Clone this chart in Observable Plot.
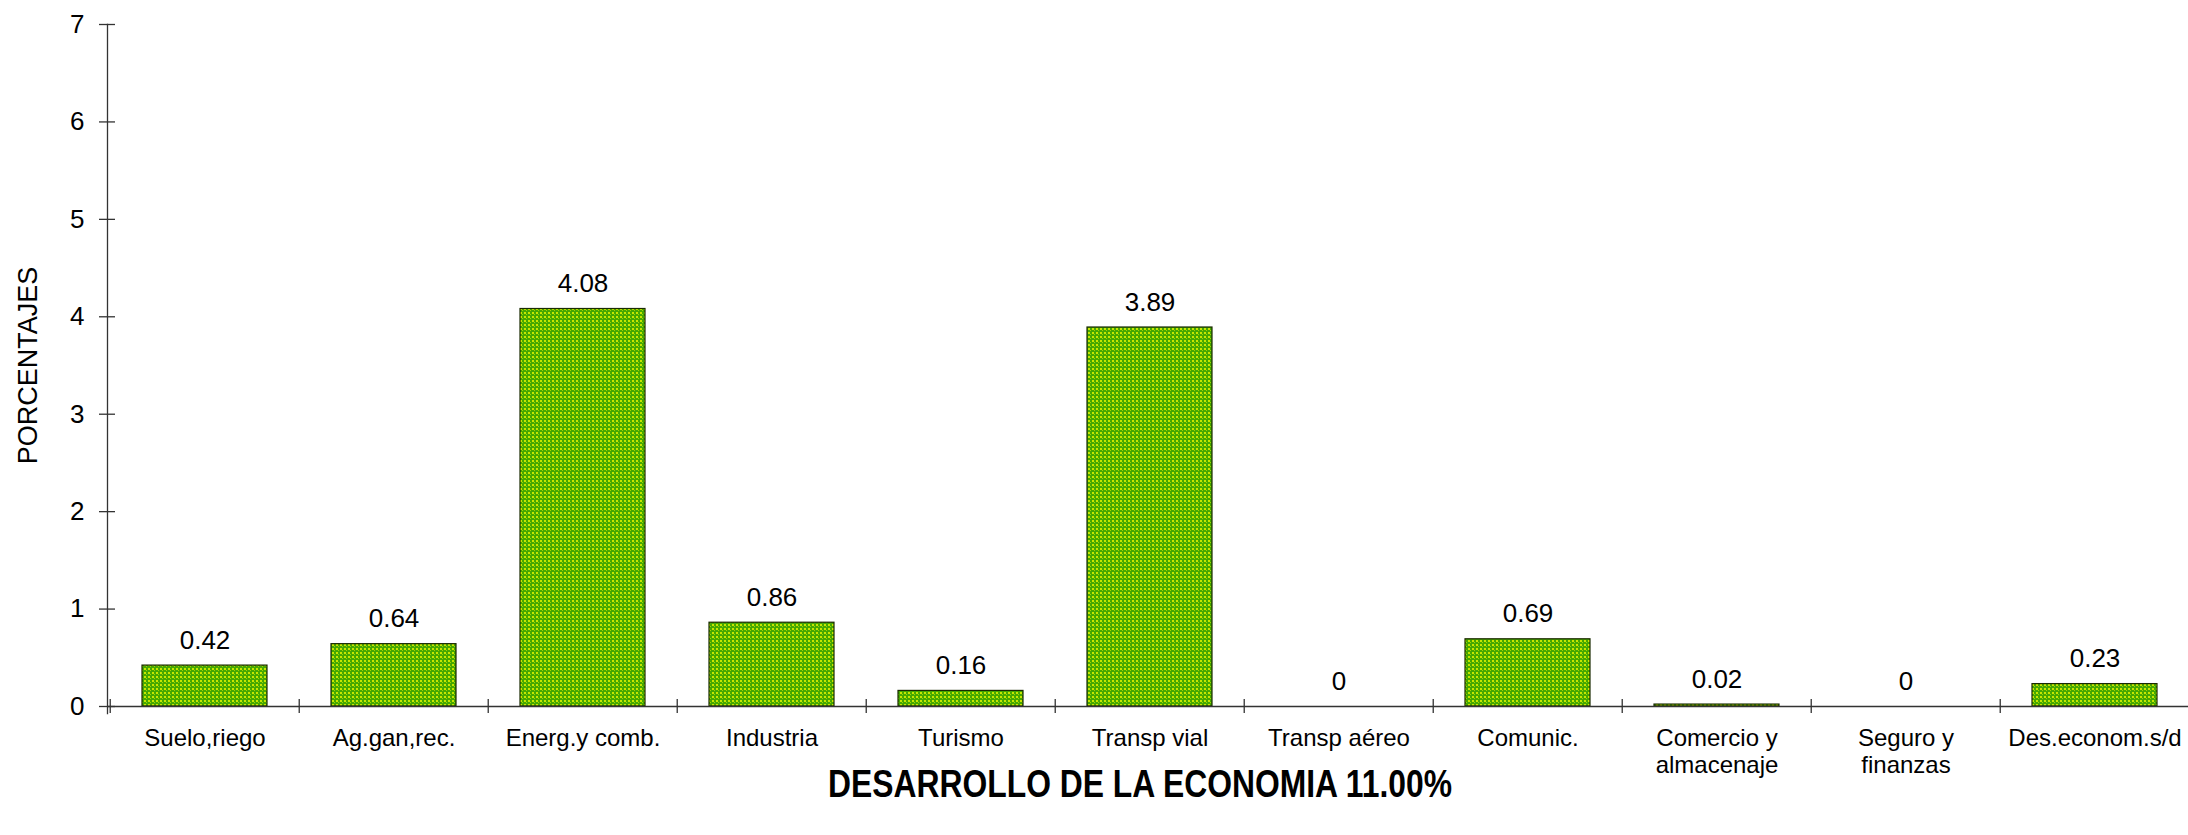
<!DOCTYPE html>
<html>
<head>
<meta charset="utf-8">
<script src="https://cdn.jsdelivr.net/npm/d3@7"></script>
<script src="https://cdn.jsdelivr.net/npm/@observablehq/plot@0.6"></script>
<style>
  html, body { margin: 0; padding: 0; background: #fff; }
  #chart { width: 2188px; height: 835px; overflow: hidden; }
</style>
</head>
<body>
<div id="chart"></div>
<script>
const categories = ["Suelo,riego", "Ag.gan,rec.", "Energ.y comb.", "Industria", "Turismo", "Transp vial", "Transp aéreo", "Comunic.", "Comercio y almacenaje", "Seguro y finanzas", "Des.econom.s/d"];
const tickLabels = ["Suelo,riego", "Ag.gan,rec.", "Energ.y comb.", "Industria", "Turismo", "Transp vial", "Transp aéreo", "Comunic.", "Comercio y\nalmacenaje", "Seguro y\nfinanzas", "Des.econom.s/d"];
const values = [0.42, 0.64, 4.08, 0.86, 0.16, 3.89, 0, 0.69, 0.02, 0, 0.23];
const yTicks = [0, 1, 2, 3, 4, 5, 6, 7];
const yLabel = "PORCENTAJES";
const title = "DESARROLLO DE LA ECONOMIA 11.00%";

const data = categories.map((c, i) => ({cat: c, value: values[i]}));
const labelOf = new Map(categories.map((c, i) => [c, tickLabels[i]]));

const W = 2188, H = 835;
const left = 107, right = 2192;
const step = (right - left) / categories.length;
const font = "'Liberation Sans', Arial, sans-serif";
const axisColor = "#333";

function patternDefs() {
  const defs = d3.create("svg:defs");
  const p = defs.append("pattern")
    .attr("id", "greenDots")
    .attr("patternUnits", "userSpaceOnUse")
    .attr("width", 4).attr("height", 4);
  p.append("rect").attr("width", 4).attr("height", 4).attr("fill", "#45a800");
  p.append("rect").attr("x", 0).attr("y", 0).attr("width", 2).attr("height", 2).attr("fill", "#c6e600");
  p.append("rect").attr("x", 2).attr("y", 2).attr("width", 1).attr("height", 1).attr("fill", "#9fd400");
  return defs.node();
}

const chart = Plot.plot({
  width: W,
  height: H,
  marginLeft: left,
  marginRight: 0,
  marginTop: 24,
  marginBottom: H - 706,
  style: {fontFamily: font, background: "#fff", color: "#000", overflow: "visible"},
  x: {domain: categories, range: [left, right], paddingInner: 0.336, paddingOuter: 0.168, align: 0.5},
  y: {domain: [0, 7]},
  marks: [
    patternDefs,
    Plot.barY(data, {x: "cat", y: "value", fill: "url(#greenDots)", stroke: "#1a2a00", strokeWidth: 1.2}),
    Plot.ruleY([0], {stroke: axisColor, strokeWidth: 1.3}),
    Plot.frame({anchor: "left", stroke: axisColor, strokeWidth: 1.3, insetBottom: -7}),
    Plot.ruleX(categories, {x: d => d, dx: -step / 2, y1: 0, y2: 0, insetTop: -7, insetBottom: -7, stroke: axisColor, strokeWidth: 1.3}),
    Plot.axisY({ticks: yTicks, tickFormat: d3.format("d"), tickSize: 16, dx: 8, tickPadding: 15, fontSize: 26,
      stroke: axisColor, strokeWidth: 1.3, label: null}),
    Plot.axisY({ticks: [], tickSize: 0, fontSize: 27, label: yLabel, labelAnchor: "center", labelArrow: "none", labelOffset: 90}),
    Plot.axisX({tickSize: 0, tickPadding: 21, fontSize: 24, lineHeight: 1.1, tickFormat: d => labelOf.get(d), label: null}),
    Plot.text(data, {x: "cat", y: "value", text: d => String(d.value), dy: -17, lineAnchor: "bottom", fontSize: 26, fill: "#000"}),
    Plot.text([title], {frameAnchor: "bottom", dy: 90, dx: -8, lineAnchor: "bottom", fontSize: 38, fontWeight: "bold", fill: "#000", className: "chart-title"})
  ]
});

document.getElementById("chart").appendChild(chart);

// condense the bold title to the reference's width
d3.select(chart).selectAll(".chart-title text")
  .attr("textLength", 624)
  .attr("lengthAdjust", "spacingAndGlyphs");
</script>
</body>
</html>
